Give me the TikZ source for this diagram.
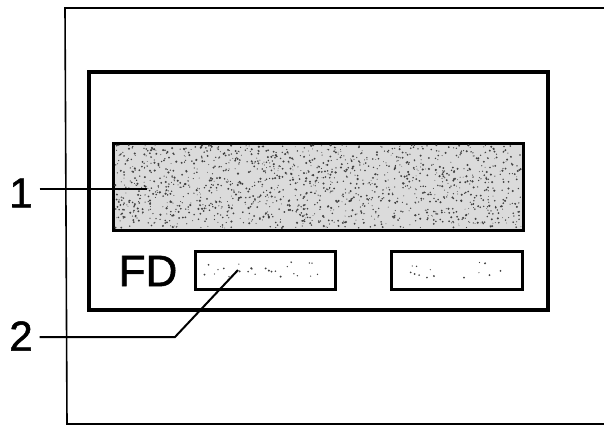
\documentclass[tikz,border=0pt]{standalone}
\usepackage{fontspec}
\setmainfont{Liberation Sans}
\newfontfamily\lblfont[FakeBold=1.3]{Liberation Sans}
\begin{document}
\begin{tikzpicture}[x=1pt,y=-1pt,
  frameline/.style={line width=1.6pt},
  panelbox/.style={draw,line width=4.6pt,minimum width=459pt,minimum height=238pt,inner sep=0pt},
  barbox/.style={draw,line width=3pt,fill=black!14,minimum width=410pt,minimum height=87pt,inner sep=0pt},
  smallbox/.style={draw,line width=3pt,minimum width=#1,minimum height=38pt,inner sep=0pt},
  lbl/.style={font=\lblfont\fontsize{42}{42}\selectfont,inner sep=0pt,outer xsep=7pt},
  fdtext/.style={font=\lblfont\fontsize{44}{44}\selectfont,inner sep=0pt},
  leader/.style={line width=2pt},
  speck/.style={fill=black!75}]
\useasboundingbox (0,0) rectangle (604,426);
\pgfmathsetseed{11}
% outer frame (open to the right)
\draw[frameline] (604,8) -- (65,8) -- (67,424) -- (604,424);
% panel
\node[panelbox] (panel) at (318.5,191) {};
% stippled bar
\node[barbox] (bar) at (318,186.5) {};
\foreach \i in {1,...,1500}{
  \fill[speck] ({115+406*rnd},{145+83*rnd}) circle ({0.4+0.8*rnd});
}
% FD and small boxes
\node[fdtext] (fd) at (148,271) {FD};
\node[smallbox=140pt] (box1) at (265,270) {};
\node[smallbox=131pt] (box2) at (456.5,270) {};
\foreach \i in {1,...,25}{
  \fill[speck] ({200+120*rnd},{262+16*rnd}) circle ({0.5+0.6*rnd});
}
\foreach \i in {1,...,14}{
  \fill[speck] ({405+100*rnd},{262+16*rnd}) circle ({0.5+0.6*rnd});
}
% labels and leaders
\coordinate (p1) at (147,189);
\coordinate (k2) at (175,337);
\coordinate (p2) at (238,270);
\node[lbl] (lab1) at (21,193) {1};
\node[lbl] (lab2) at (21,336) {2};
\draw[leader] (lab1.east |- p1) -- (p1);
\draw[leader] (lab2.east |- k2) -- (k2) -- (p2);
\end{tikzpicture}
\end{document}
